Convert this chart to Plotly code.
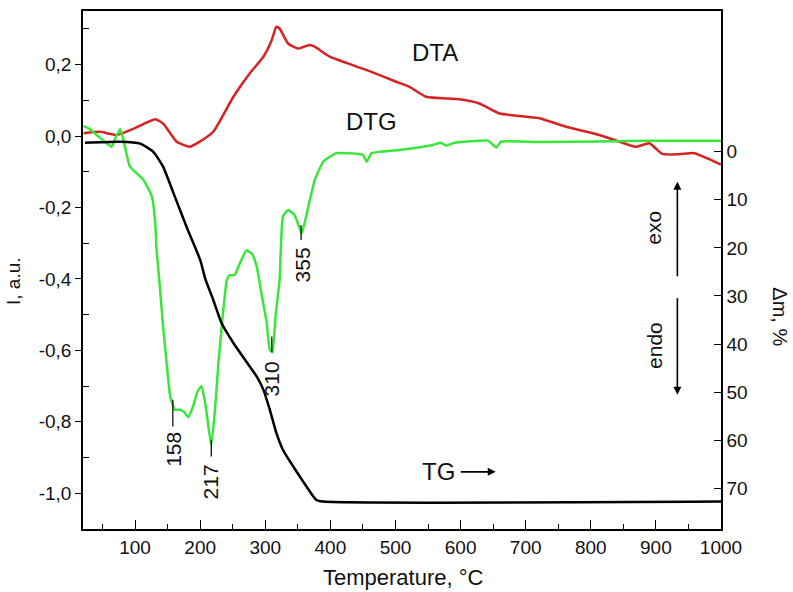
import plotly.graph_objects as go

# ---------------- data ----------------
dta_T = [21, 46, 72, 97, 131, 143, 164, 184, 200, 220, 251, 276, 297, 310, 317, 322, 335, 350, 368, 376,
         399, 455, 501, 521, 547, 598, 629, 660, 721, 762, 813, 844, 869, 890, 900, 910, 936, 959, 1000]
dta_v = [0.008, 0.012, 0.003, 0.02, 0.047, 0.035, -0.016, -0.03, -0.015, 0.012, 0.11, 0.175, 0.222, 0.269,
         0.306, 0.301, 0.259, 0.245, 0.255, 0.25, 0.222, 0.185, 0.152, 0.138, 0.11, 0.103, 0.091, 0.063,
         0.05, 0.026, 0.003, -0.016, -0.03, -0.02, -0.035, -0.05, -0.051, -0.048, -0.08]

dtg_T = [21, 30, 41, 56, 64, 70, 77, 82, 92, 113, 126, 131, 133, 137, 143, 149, 154, 161, 169, 175, 182,
         189, 196, 202, 208, 217, 223, 228, 235, 241, 245, 253, 261, 271, 280, 287, 294, 302, 307, 311,
         316, 322, 327, 335, 345, 356, 366, 376, 389, 409, 450, 456, 463, 476, 506, 557, 570, 578, 588,
         642, 655, 662, 720, 813, 900, 1000]
dtg_v = [0.028, 0.02, 0.003, -0.02, -0.03, -0.005, 0.02, -0.01, -0.085, -0.123, -0.17, -0.244, -0.32,
         -0.40, -0.533, -0.645, -0.729, -0.766, -0.766, -0.772, -0.787, -0.757, -0.715, -0.70, -0.75,
         -0.866, -0.76, -0.636, -0.496, -0.403, -0.39, -0.389, -0.356, -0.32, -0.33, -0.366, -0.44,
         -0.52, -0.599, -0.605, -0.50, -0.403, -0.226, -0.207, -0.221, -0.272, -0.198, -0.123, -0.072,
         -0.048, -0.053, -0.072, -0.048, -0.044, -0.039, -0.025, -0.019, -0.027, -0.02, -0.013, -0.032,
         -0.016, -0.017, -0.015, -0.013, -0.013]

tg_T = [23, 77, 108, 128, 143, 159, 179, 200, 208, 220, 233, 251, 271, 287, 297, 307, 317, 327, 343,
        363, 378, 389, 1000]
tg_m = [-1.9, -2.1, -1.7, 0, 3.1, 8.6, 15.6, 22.5, 26.5, 30.8, 35.7, 39.8, 43.7, 46.8, 49.5, 53.7,
        58.5, 62, 65.5, 69.6, 72.4, 72.8, 72.8]

x_ticks = [100, 200, 300, 400, 500, 600, 700, 800, 900, 1000]
y_ticks = [-1.0, -0.8, -0.6, -0.4, -0.2, 0.0, 0.2]
y_ticktext = ["-1,0", "-0,8", "-0,6", "-0,4", "-0,2", "0,0", "0,2"]
y2_ticks = [0, 10, 20, 30, 40, 50, 60, 70]

peak_T = [158, 217, 310, 355]
peak_labels = ["158", "217", "310", "355"]
peak_line_top = [-0.738, -0.850, -0.561, -0.249]
peak_line_bot = [-0.813, -0.897, -0.605, -0.291]
peak_text_T = [160, 216.5, 311, 357]
peak_text_v = [-0.878, -0.967, -0.68, -0.361]

FONT = "Liberation Sans, Arial, sans-serif"
RED = "#d62222"
GREEN = "#3ae63a"

fig = go.Figure()
fig.add_trace(go.Scatter(x=dta_T, y=dta_v, mode="lines", line=dict(color=RED, width=2.5, shape="spline", smoothing=0.5),
                         showlegend=False, name="DTA"))
fig.add_trace(go.Scatter(x=dtg_T, y=dtg_v, mode="lines", line=dict(color=GREEN, width=2.5, shape="spline", smoothing=0.4),
                         showlegend=False, name="DTG"))
fig.add_trace(go.Scatter(x=tg_T, y=tg_m, mode="lines", yaxis="y2", line=dict(color="black", width=2.5, shape="spline", smoothing=0.5),
                         showlegend=False, name="TG"))

C = dict(xanchor="center", yanchor="middle")
ann = []
ann.append(dict(x=561, y=0.235, xref="x", yref="y", text="DTA", showarrow=False, font=dict(size=24, family=FONT, color="#111"), **C))
ann.append(dict(x=463, y=0.042, xref="x", yref="y", text="DTG", showarrow=False, font=dict(size=24, family=FONT, color="#111"), **C))
ann.append(dict(x=566, y=-0.94, xref="x", yref="y", text="TG", showarrow=False, font=dict(size=24, family=FONT, color="#111"), **C))
ann.append(dict(x=654, y=-0.94, xref="x", yref="y", ax=598, ay=-0.94, axref="x", ayref="y", text="",
                showarrow=True, arrowhead=2, arrowsize=1, arrowwidth=1.6, arrowcolor="black"))
ann.append(dict(x=897, y=-0.257, xref="x", yref="y", text="exo", textangle=-90, showarrow=False,
                font=dict(size=21, family=FONT, color="#111"), **C))
ann.append(dict(x=933, y=-0.128, xref="x", yref="y", ax=933, ay=-0.397, axref="x", ayref="y", text="",
                showarrow=True, arrowhead=2, arrowsize=1, arrowwidth=1.6, arrowcolor="black"))
ann.append(dict(x=897, y=-0.585, xref="x", yref="y", text="endo", textangle=-90, showarrow=False,
                font=dict(size=21, family=FONT, color="#111"), **C))
ann.append(dict(x=933, y=-0.724, xref="x", yref="y", ax=933, ay=-0.45, axref="x", ayref="y", text="",
                showarrow=True, arrowhead=2, arrowsize=1, arrowwidth=1.6, arrowcolor="black"))
for t, lab, tv in zip(peak_text_T, peak_labels, peak_text_v):
    ann.append(dict(x=t, y=tv, xref="x", yref="y", text=lab, textangle=-90, showarrow=False,
                    font=dict(size=21, family=FONT, color="#111"), **C))
# axis titles
ann.append(dict(x=0.502, y=-0.094, xref="paper", yref="paper", text="Temperature, °C", showarrow=False,
                font=dict(size=22, family=FONT, color="#111"), **C))
ann.append(dict(x=-0.108, y=0.479, xref="paper", yref="paper", text="I, a.u.", textangle=-90, showarrow=False,
                font=dict(size=19, family=FONT, color="#111"), **C))
ann.append(dict(x=1.093, y=0.41, xref="paper", yref="paper", text="Δm, %", textangle=90, showarrow=False,
                font=dict(size=20, family=FONT, color="#111"), **C))

shapes = []
for t, y0, y1 in zip(peak_T, peak_line_top, peak_line_bot):
    shapes.append(dict(type="line", xref="x", yref="y", x0=t, x1=t, y0=y0, y1=y1, line=dict(color="black", width=1.2)))

fig.update_layout(
    width=793, height=592,
    margin=dict(l=83, r=72, t=11, b=63, autoexpand=False),
    plot_bgcolor="white", paper_bgcolor="white",
    font=dict(family=FONT, size=19, color="#111"),
    annotations=ann, shapes=shapes,
    xaxis=dict(range=[20, 1000], tickvals=x_ticks, ticks="inside", ticklen=9, tickwidth=1.3, tickcolor="black",
               minor=dict(tickvals=[50, 150, 250, 350, 450, 550, 650, 750, 850, 950], ticks="inside", ticklen=5,
                          tickwidth=1.3, tickcolor="black"),
               showline=True, linecolor="black", linewidth=1.5, mirror=True, showgrid=False, zeroline=False,
               tickfont=dict(size=19), automargin=False),
    yaxis=dict(range=[-1.1, 0.35], tickvals=y_ticks, ticktext=y_ticktext, ticks="outside", ticklen=6, tickwidth=1.3,
               tickcolor="black",
               minor=dict(tickvals=[-0.9, -0.7, -0.5, -0.3, -0.1, 0.1, 0.3], ticks="inside", ticklen=6,
                          tickwidth=1.3, tickcolor="black"),
               showline=True, linecolor="black", linewidth=1.5, mirror=True, showgrid=False, zeroline=False,
               tickfont=dict(size=19), automargin=False),
    yaxis2=dict(overlaying="y", side="right", range=[78.5, -29.3], tickvals=y2_ticks, ticks="inside", ticklen=7,
                tickwidth=1.3, tickcolor="black", showline=True, linecolor="black", linewidth=1.5,
                showgrid=False, zeroline=False, tickfont=dict(size=19), automargin=False),
)

# remove the default 8px page margin so the 793x592 figure fills the window exactly
fig.write_html("out.html", config={"displayModeBar": False},
               post_script="document.body.style.margin='0px';document.body.style.overflow='hidden';")
